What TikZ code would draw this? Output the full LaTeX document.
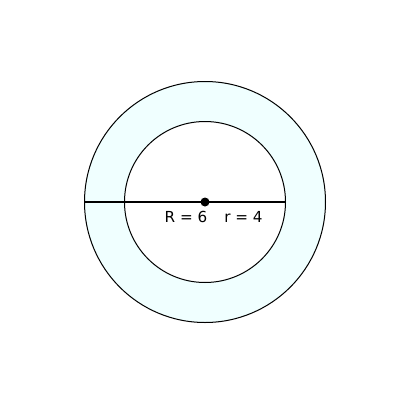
\documentclass[tikz,border=0pt]{standalone}
\usepackage{fontspec}
\setmainfont{DejaVu Sans}
\definecolor{azure}{HTML}{F0FFFF}
\begin{document}
\begin{tikzpicture}[x=1pt,y=-1pt,
  ring/.style={draw=black,line width=1pt},
  lbl/.style={font=\fontsize{15.2}{18}\selectfont,inner sep=0pt,anchor=base}]
\useasboundingbox (0,0) rectangle (400,400);
\coordinate (O) at (205,202);
\fill[azure] (O) circle (120.5);
\draw[ring] (O) circle (120.5);
\fill[white] (O) circle (80.5);
\draw[ring] (O) circle (80.5);
\coordinate (L) at (84.5,202);
\coordinate (Rr) at (285.5,202);
\draw[line width=2pt] (L) -- (Rr);
\node[circle,fill=black,inner sep=0pt,minimum size=9pt] (c) at (O) {};
\node[lbl] (R) at (186,222) {R = 6};
\node[lbl] (r) at (243.5,222) {r = 4};
\end{tikzpicture}
\end{document}
